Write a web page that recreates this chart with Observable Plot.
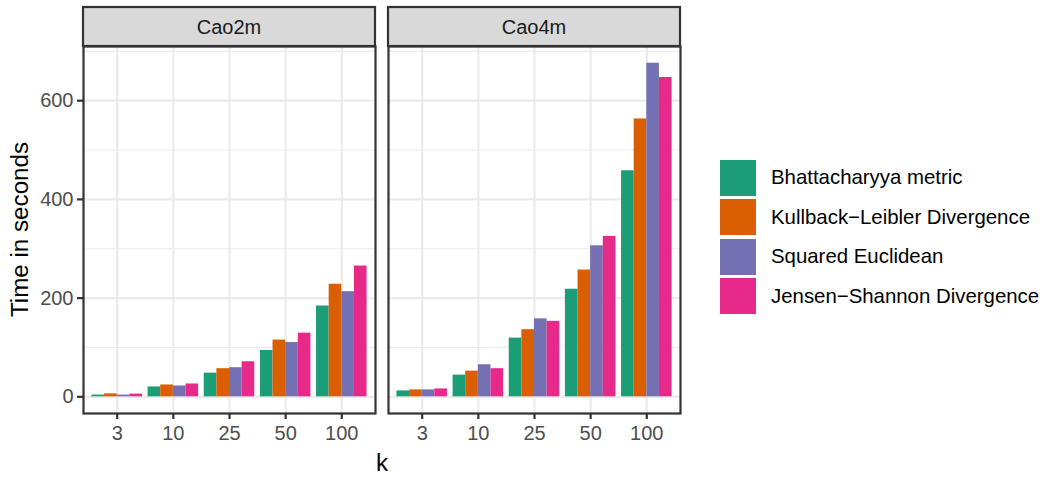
<!DOCTYPE html>
<html>
<head>
<meta charset="utf-8">
<script src="https://cdn.jsdelivr.net/npm/d3@7"></script>
<script src="https://cdn.jsdelivr.net/npm/@observablehq/plot@0.6"></script>
<style>
  body { margin: 0; background: #ffffff; font-family: Arial, "Liberation Sans", sans-serif; }
  #wrap { position: relative; width: 1050px; height: 479px; overflow: hidden; }
  #chart { position: absolute; left: 0; top: 0; }
  #legend { position: absolute; left: 720px; top: 158px; }
  .key { display: flex; align-items: center; height: 39.5px; }
  .swatch { width: 36px; height: 36px; margin-right: 15px; }
  .lab { font-size: 20.4px; color: #000000; white-space: nowrap; }
</style>
</head>
<body>
<div id="wrap"><div id="chart"></div><div id="legend"></div></div>
<script>
// ---- data ----
const datasets = ["Cao2m", "Cao4m"];
const kValues = [3, 10, 25, 50, 100];
const methods = ["Bhattacharyya metric", "Kullback\u2212Leibler Divergence", "Squared Euclidean", "Jensen\u2212Shannon Divergence"];
const methodColors = ["#1B9E77", "#D95F02", "#7570B3", "#E7298A"];

const cao2mBhattacharyya = [3.5, 20, 48, 94, 184];
const cao2mKullbackLeibler = [6, 24, 57, 115, 228];
const cao2mSquaredEuclidean = [3.5, 22, 59, 110, 213];
const cao2mJensenShannon = [5.5, 26, 71, 129, 265];

const cao4mBhattacharyya = [12, 44, 119, 218, 458];
const cao4mKullbackLeibler = [14, 52, 136, 257, 563];
const cao4mSquaredEuclidean = [14, 65, 158, 306, 676];
const cao4mJensenShannon = [16, 57, 153, 325, 647];

const yMajor = [0, 200, 400, 600];
const yMinor = [100, 300, 500, 700];

const series = {
  Cao2m: [cao2mBhattacharyya, cao2mKullbackLeibler, cao2mSquaredEuclidean, cao2mJensenShannon],
  Cao4m: [cao4mBhattacharyya, cao4mKullbackLeibler, cao4mSquaredEuclidean, cao4mJensenShannon]
};

const rows = [];
datasets.forEach(d => methods.forEach((m, mi) => kValues.forEach((k, ki) => {
  rows.push({dataset: d, method: m, mi, ki, k, value: series[d][mi][ki]});
})));

// ggplot-like dodge: group width 0.9, 4 bars
const groupWidth = 0.9;
const barW = groupWidth / methods.length;
const ymax = d3.max(rows, r => r.value);
const yExp = ymax * 0.05;
const kIdx = kValues.map((_, i) => i);

const font = 'Arial, "Liberation Sans", sans-serif';

const plot = Plot.plot({
  width: 690,
  height: 479,
  marginLeft: 83,
  marginRight: 9,
  marginTop: 46,
  marginBottom: 66,
  style: {fontFamily: font, background: "#ffffff", overflow: "visible"},
  fx: {domain: datasets, paddingInner: 0.0426, paddingOuter: 0, axis: null, label: null},
  x: {domain: [-0.6, kValues.length - 0.4], axis: null},
  y: {domain: [-yExp, ymax + yExp], axis: null},
  color: {domain: methods, range: methodColors},
  marks: [
    Plot.ruleY(yMinor, {stroke: "#EBEBEB", strokeWidth: 1.1}),
    Plot.ruleY(yMajor, {stroke: "#EBEBEB", strokeWidth: 2.2}),
    Plot.ruleX(kIdx, {stroke: "#EBEBEB", strokeWidth: 2.2}),
    Plot.rect(rows, {
      fx: "dataset",
      x1: r => r.ki - groupWidth / 2 + r.mi * barW,
      x2: r => r.ki - groupWidth / 2 + (r.mi + 1) * barW,
      y1: 0,
      y2: "value",
      fill: "method"
    }),
    Plot.frame({stroke: "#333333", strokeWidth: 2.2}),
    Plot.axisX({
      ticks: kIdx,
      tickFormat: i => kValues[i],
      tickSize: 6,
      tickPadding: 6,
      stroke: "#333333",
      strokeWidth: 2.2,
      fill: "#4D4D4D",
      fontSize: 20,
      label: null
    }),
    Plot.axisY({
      ticks: yMajor,
      tickSize: 6,
      tickPadding: 4,
      stroke: "#333333",
      strokeWidth: 2.2,
      fill: "#4D4D4D",
      fontSize: 20,
      label: null,
      facetAnchor: "left"
    })
  ]
});

document.getElementById("chart").appendChild(plot);

// strips and axis titles
const svg = d3.select(plot);
const fxs = plot.scale("fx");
const bw = fxs.bandwidth;
const stripTop = 7, stripBottom = 46;
datasets.forEach(d => {
  const x0 = fxs.apply(d);
  const g = svg.append("g");
  g.append("rect")
    .attr("x", x0).attr("y", stripTop)
    .attr("width", bw).attr("height", stripBottom - stripTop)
    .attr("fill", "#D9D9D9").attr("stroke", "#333333").attr("stroke-width", 2.2);
  g.append("text")
    .attr("x", x0 + bw / 2).attr("y", (stripTop + stripBottom) / 2)
    .attr("text-anchor", "middle").attr("dominant-baseline", "central")
    .attr("fill", "#1A1A1A").attr("font-size", 20).attr("font-family", font)
    .text(d);
});
const ys = plot.scale("y");
const yMid = (ys.range[0] + ys.range[1]) / 2;
svg.append("text")
  .attr("transform", `translate(19,${yMid}) rotate(-90)`)
  .attr("text-anchor", "middle").attr("dominant-baseline", "central")
  .attr("fill", "#000000").attr("font-size", 24.2).attr("font-family", font)
  .text("Time in seconds");
const xr = fxs.range;
svg.append("text")
  .attr("x", (xr[0] + xr[1]) / 2).attr("y", 462)
  .attr("text-anchor", "middle").attr("dominant-baseline", "central")
  .attr("fill", "#000000").attr("font-size", 24.2).attr("font-family", font)
  .text("k");

// legend
const legend = d3.select("#legend");
methods.forEach((m, i) => {
  const row = legend.append("div").attr("class", "key");
  row.append("div").attr("class", "swatch").style("background", methodColors[i]);
  row.append("div").attr("class", "lab").text(m);
});
</script>
</body>
</html>
